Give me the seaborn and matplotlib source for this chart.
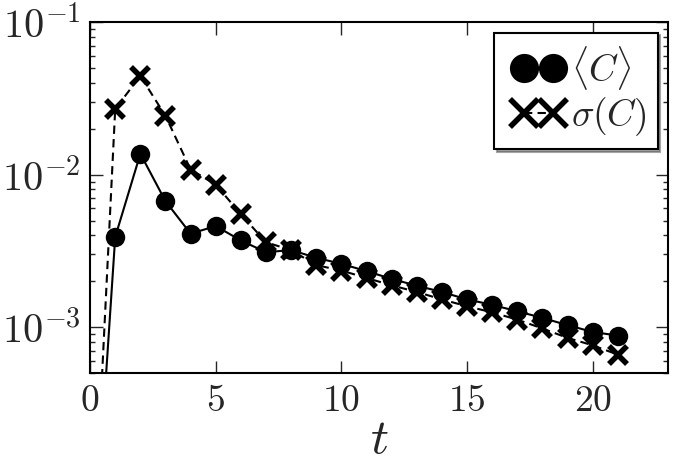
import numpy as np
import pandas as pd
import matplotlib
matplotlib.use('Agg')
import matplotlib.pyplot as plt
from matplotlib.lines import Line2D
from matplotlib.legend_handler import HandlerLine2D
from matplotlib.ticker import FuncFormatter, FixedLocator
import seaborn as sns

# values
t = list(range(0, 22))
mean_c = [1.3e-5, 3.9e-3, 1.37e-2, 6.7e-3, 4.1e-3, 4.6e-3, 3.7e-3, 3.1e-3, 3.2e-3,
          2.85e-3, 2.6e-3, 2.33e-3, 2.07e-3, 1.87e-3, 1.7e-3, 1.52e-3, 1.4e-3,
          1.27e-3, 1.15e-3, 1.03e-3, 9.3e-4, 8.8e-4]
sigma_c = [1.25e-5, 2.7e-2, 4.43e-2, 2.43e-2, 1.08e-2, 8.6e-3, 5.5e-3, 3.6e-3, 3.2e-3,
           2.55e-3, 2.35e-3, 2.1e-3, 1.88e-3, 1.7e-3, 1.52e-3, 1.37e-3, 1.25e-3,
           1.12e-3, 9.8e-4, 8.5e-4, 7.6e-4, 6.6e-4]
x_ticks = [0, 5, 10, 15, 20]
y_ticks = [1e-3, 1e-2, 1e-1]

df = pd.DataFrame({'t': t, 'mean': mean_c, 'sigma': sigma_c})

sns.set_style('ticks')
plt.rcParams['mathtext.fontset'] = 'cm'
plt.rcParams['font.family'] = ['DejaVu Serif']

fig = plt.figure(figsize=(6.93, 4.71), dpi=100)
ax = fig.add_axes([0.130, 0.208, 0.834, 0.745])

sns.lineplot(data=df, x='t', y='mean', ax=ax, color='black', linestyle='-',
             linewidth=1.5, marker='o', markersize=14, markeredgewidth=0,
             markeredgecolor='black', label=r'$\langle C\rangle$')
sns.lineplot(data=df, x='t', y='sigma', ax=ax, color='black', linestyle=(0, (4, 2.5)),
             linewidth=1.5, marker='x', markersize=13.5, markeredgewidth=4,
             markeredgecolor='black', label=r'$\sigma(C)$')

ax.set_yscale('log')
ax.set_xlim(0, 23)
ax.set_ylim(5e-4, 1e-1)
ax.xaxis.set_major_locator(FixedLocator(x_ticks))
ax.yaxis.set_major_locator(FixedLocator(y_ticks))
ax.xaxis.set_major_formatter(FuncFormatter(lambda v, p: f'${int(v)}$'))
ax.yaxis.set_major_formatter(FuncFormatter(lambda v, p: f'$10^{{{int(round(np.log10(v)))}}}$'))
ax.tick_params(which='major', direction='in', length=9, width=1, top=True, right=True, pad=7)
ax.tick_params(axis='x', labelsize=27)
ax.tick_params(axis='y', labelsize=29)
ax.tick_params(which='minor', direction='in', length=3.5, width=1, top=False, right=True)
ax.tick_params(axis='x', which='minor', bottom=False, top=False)
for s in ax.spines.values():
    s.set_linewidth(1.5)
    s.set_color('black')

ax.set_xlabel(r'$t$', fontsize=36, labelpad=-3)
ax.set_ylabel('')

# two markers per entry, pushed towards the frame edges like the original
leg = ax.legend(loc='upper right', shadow=True, fancybox=False,
                handler_map={Line2D: HandlerLine2D(numpoints=2, marker_pad=0.48)},
                fontsize=27, handlelength=1.73, handletextpad=0.0, markerscale=1.5,
                borderpad=0.3, labelspacing=0.08, borderaxespad=0.28, framealpha=1)
leg.get_frame().set_edgecolor('black')
leg.get_frame().set_linewidth(1.5)

fig.savefig('out.png', dpi=100)
